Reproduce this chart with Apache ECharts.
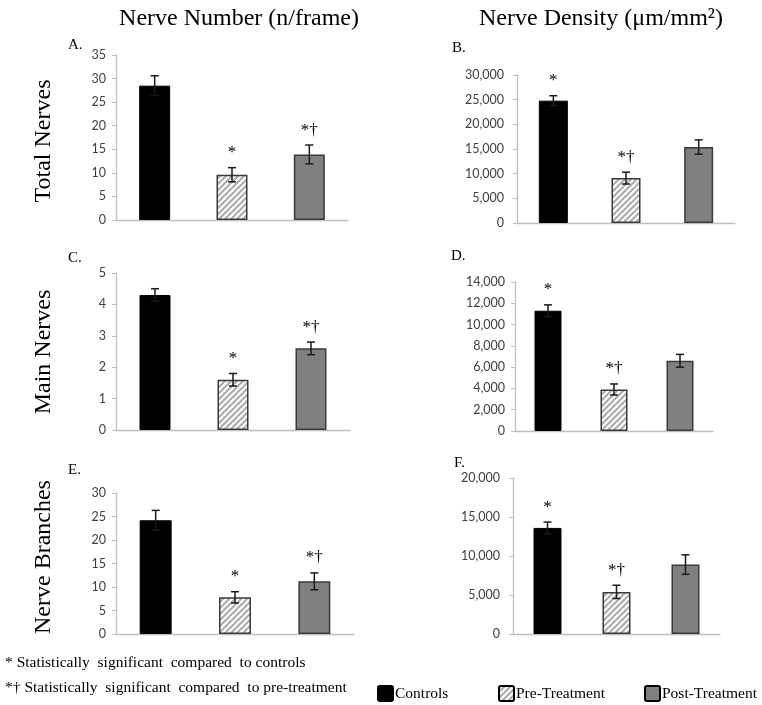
<!DOCTYPE html>
<html>
<head>
<meta charset="utf-8">
<script src="https://cdn.jsdelivr.net/npm/echarts@6/dist/echarts.min.js"></script>
<style>
  html, body { margin: 0; padding: 0; background: #fff; }
  #main { width: 762px; height: 705px; }
</style>
</head>
<body>
<div id="main"></div>
<script>
// groups shown in every panel
var groups = ['Controls', 'Pre-Treatment', 'Post-Treatment'];

// A. total nerves, number per frame
var totalNumMean = [28.5, 9.6, 13.9];
var totalNumErr = [2.1, 1.5, 2.0];
var totalNumSig = ['', '*', '*†'];
// B. total nerves, density
var totalDenMean = [24800, 9100, 15400];
var totalDenErr = [1000, 1200, 1450];
var totalDenSig = ['*', '*†', ''];
// C. main nerves, number
var mainNumMean = [4.3, 1.6, 2.6];
var mainNumErr = [0.2, 0.2, 0.2];
var mainNumSig = ['', '*', '*†'];
// D. main nerves, density
var mainDenMean = [11300, 3900, 6600];
var mainDenErr = [550, 520, 600];
var mainDenSig = ['*', '*†', ''];
// E. nerve branches, number
var branchNumMean = [24.2, 7.8, 11.2];
var branchNumErr = [2.1, 1.2, 1.8];
var branchNumSig = ['', '*', '*†'];
// F. nerve branches, density
var branchDenMean = [13600, 5400, 8900];
var branchDenErr = [750, 850, 1250];
var branchDenSig = ['*', '*†', ''];

// y axis ranges (max, step)
var yMax = [35, 30000, 5, 14000, 30, 20000];
var yStep = [5, 5000, 1, 2000, 5, 5000];

var colTitles = ['Nerve Number (n/frame)', 'Nerve Density (\u03bcm/mm\u00b2)'];
var rowTitles = ['Total Nerves', 'Main Nerves', 'Nerve Branches'];
var panelLetters = ['A.', 'B.', 'C.', 'D.', 'E.', 'F.'];
var notes = ['* Statistically  significant  compared  to controls',
             '*\u2020 Statistically  significant  compared  to pre-treatment'];

var means = [totalNumMean, totalDenMean, mainNumMean, mainDenMean, branchNumMean, branchDenMean];
var errs = [totalNumErr, totalDenErr, mainNumErr, mainDenErr, branchNumErr, branchDenErr];
var sigs = [totalNumSig, totalDenSig, mainNumSig, mainDenSig, branchNumSig, branchDenSig];

// grid boxes in px
var boxes = [
  {left: 116, top: 55, width: 232, height: 165, bw: 31, margin: 10, letter: [68, 47]},
  {left: 517, top: 75, width: 218, height: 148, bw: 29, margin: 13, letter: [452, 50]},
  {left: 116, top: 273, width: 234, height: 157, bw: 31, margin: 10, letter: [68, 260]},
  {left: 515, top: 282, width: 198, height: 149, bw: 27, margin: 10, letter: [451, 258]},
  {left: 116, top: 493, width: 238, height: 141, bw: 32, margin: 10, letter: [68, 472]},
  {left: 513, top: 478, width: 207, height: 156, bw: 28, margin: 13, letter: [454, 465]}
];

// striped fill for pre-treatment
var hatch = document.createElement('canvas');
hatch.width = 6; hatch.height = 6;
var hc = hatch.getContext('2d');
hc.fillStyle = '#fff';
hc.fillRect(0, 0, 6, 6);
hc.strokeStyle = '#ababab';
hc.lineWidth = 2;
hc.beginPath();
hc.moveTo(-1, 7); hc.lineTo(7, -1);
hc.moveTo(-1, 1); hc.lineTo(1, -1);
hc.moveTo(5, 7); hc.lineTo(7, 5);
hc.stroke();

var barStyles = [
  {color: '#000', borderColor: '#000', borderWidth: 1},
  {color: {image: hatch, repeat: 'repeat'}, borderColor: '#3a3a3a', borderWidth: 1.5},
  {color: '#808080', borderColor: '#3a3a3a', borderWidth: 1.5}
];

var serif = '"Liberation Serif", "Times New Roman", serif';
var grid = [], xAxis = [], yAxis = [], series = [], graphic = [];

boxes.forEach(function (b, p) {
  grid.push({left: b.left, top: b.top, width: b.width, height: b.height});
  xAxis.push({
    type: 'category', gridIndex: p, data: groups,
    axisLine: {lineStyle: {color: '#bfbfbf', width: 1.3}},
    axisTick: {show: false}, axisLabel: {show: false}
  });
  yAxis.push({
    type: 'value', gridIndex: p, min: 0, max: yMax[p], interval: yStep[p],
    splitLine: {show: false},
    axisLine: {show: true, lineStyle: {color: '#bfbfbf', width: 1.3}},
    axisTick: {show: true, length: 4, lineStyle: {color: '#bfbfbf'}},
    axisLabel: {
      margin: b.margin, color: '#404040', fontFamily: 'Lato, "Open Sans", sans-serif', fontSize: 12.5,
      formatter: function (v) { return v.toLocaleString('en-US'); }
    }
  });
  groups.forEach(function (g, gi) {
    series.push({
      type: 'bar', name: g, xAxisIndex: p, yAxisIndex: p,
      barWidth: b.bw, barGap: '-100%',
      data: means[p].map(function (v, i) { return i === gi ? v : '-'; }),
      itemStyle: barStyles[gi], silent: true
    });
  });
  series.push({
    type: 'custom', xAxisIndex: p, yAxisIndex: p, z: 5, silent: true, clip: false,
    data: means[p].map(function (v, i) { return [i, v, errs[p][i]]; }),
    renderItem: function (params, api) {
      var i = api.value(0), m = api.value(1), e = api.value(2);
      var hi = api.coord([i, m + e]);
      var lo = api.coord([i, m - e]);
      var x = hi[0], cap = 4;
      var ls = {stroke: '#1a1a1a', lineWidth: 1.5};
      var kids = [
        {type: 'line', shape: {x1: x, y1: hi[1], x2: x, y2: lo[1]}, style: ls},
        {type: 'line', shape: {x1: x - cap, y1: hi[1], x2: x + cap, y2: hi[1]}, style: ls},
        {type: 'line', shape: {x1: x - cap, y1: lo[1], x2: x + cap, y2: lo[1]}, style: ls}
      ];
      var s = sigs[p][params.dataIndex];
      if (s) {
        kids.push({type: 'text', style: {
          text: s, x: x, y: hi[1] - 15, align: 'center', verticalAlign: 'middle',
          font: '17px ' + serif, fill: '#000'
        }});
      }
      return {type: 'group', children: kids};
    }
  });
  graphic.push({type: 'text', left: b.letter[0], top: b.letter[1] - 9,
    style: {text: panelLetters[p], font: '15px ' + serif, fill: '#000'}});
});

graphic.push({type: 'text', x: 239, y: 19, style: {text: colTitles[0], font: '24px ' + serif, fill: '#000', align: 'center', verticalAlign: 'middle'}});
graphic.push({type: 'text', x: 601, y: 19, style: {text: colTitles[1], font: '24px ' + serif, fill: '#000', align: 'center', verticalAlign: 'middle'}});
var rowY = [141, 352, 557];
rowTitles.forEach(function (t, r) {
  graphic.push({type: 'text', x: 44, y: rowY[r], rotation: Math.PI / 2,
    style: {text: t, font: '24px ' + serif, fill: '#000', align: 'center', verticalAlign: 'middle'}});
});
graphic.push({type: 'text', x: 5, y: 663, style: {text: notes[0], font: '15.5px ' + serif, fill: '#000', verticalAlign: 'middle'}});
graphic.push({type: 'text', x: 5, y: 688, style: {text: notes[1], font: '15.5px ' + serif, fill: '#000', verticalAlign: 'middle'}});

var legendLeft = [372, 493, 639];
var legend = groups.map(function (g, gi) {
  return {
    left: legendLeft[gi], top: 680, itemWidth: 15, itemHeight: 15, itemGap: 0,
    selectedMode: false,
    textStyle: {fontFamily: serif, fontSize: 15.5, color: '#000', padding: [0, 0, 0, -3]},
    data: [{name: g, icon: 'path://M2,0 L13,0 Q15,0 15,2 L15,13 Q15,15 13,15 L2,15 Q0,15 0,13 L0,2 Q0,0 2,0 Z', itemStyle: {
      color: barStyles[gi].color, borderColor: '#000', borderWidth: 2
    }}]
  };
});

var myChart = echarts.init(document.getElementById('main'));
myChart.setOption({
  animation: false,
  grid: grid, xAxis: xAxis, yAxis: yAxis, series: series,
  legend: legend, graphic: graphic
});
</script>
</body>
</html>
